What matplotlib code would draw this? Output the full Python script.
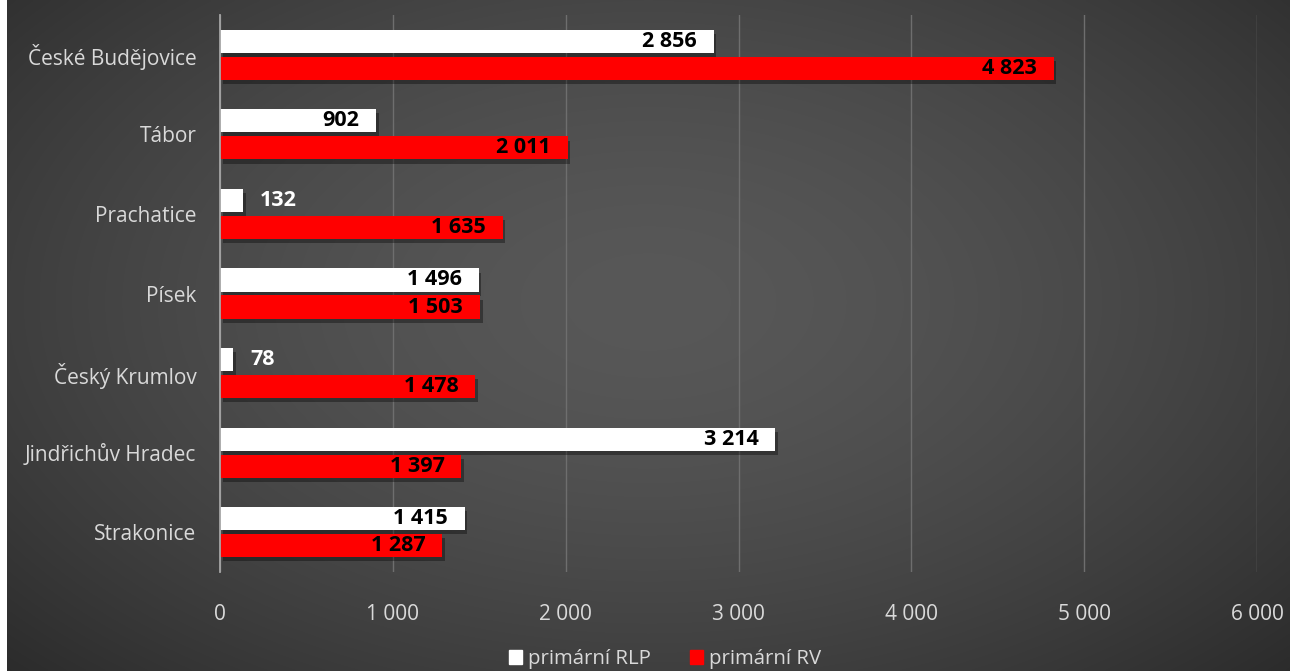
import numpy as np
import matplotlib
matplotlib.use("Agg")
import matplotlib.pyplot as plt
import matplotlib.patheffects as pe
from matplotlib.patches import Rectangle

categories = ["Strakonice", "Jindřichův Hradec", "Český Krumlov", "Písek",
              "Prachatice", "Tábor", "České Budějovice"]
rlp = [1415, 3214, 78, 1496, 132, 902, 2856]
rv = [1287, 1397, 1478, 1503, 1635, 2011, 4823]
xticks = [0, 1000, 2000, 3000, 4000, 5000, 6000]
series_names = ["primární RLP", "primární RV"]

FONT = ["Open Sans", "DejaVu Sans"]
plt.rcParams['font.family'] = FONT

W, H = 1290, 671
fig = plt.figure(figsize=(W / 100, H / 100), dpi=100)
fig.patch.set_facecolor("white")

# background radial gradient
bg = fig.add_axes([7 / W, 0, 1 - 7 / W, 1], zorder=0)
yy, xx = np.mgrid[0:1:300j, 0:1:600j]
r = np.sqrt(((xx - 0.5) / 0.75) ** 2 + ((yy - 0.55) / 0.85) ** 2)
r = np.clip(r, 0, 1)
val = 0.345 - (0.345 - 0.15) * r ** 1.6
img = np.dstack([val, val, val])
bg.imshow(img, aspect="auto", extent=[0, 1, 0, 1], origin="lower", interpolation="bilinear")
bg.axis("off")

left, right = 220 / W, 1257 / W
bottom, top = 1 - 572 / H, 1 - 15 / H
ax = fig.add_axes([left, bottom, right - left, top - bottom], zorder=1)
ax.patch.set_alpha(0)

y = np.arange(len(categories))
h = 0.29
off = 0.17
shadow = [pe.SimplePatchShadow(offset=(2, -3), shadow_rgbFace="black", alpha=0.35), pe.Normal()]
b1 = ax.barh(y + off, rlp, height=h, color="white", zorder=3)
b2 = ax.barh(y - off, rv, height=h, color="#ff0000", zorder=3)
for b in list(b1) + list(b2):
    b.set_path_effects(shadow)

ax.set_xlim(0, 6000)
ax.set_ylim(-0.5, len(categories) - 0.5)
ax.set_xticks(xticks)
ax.set_xticklabels([f"{t:,}".replace(",", " ") for t in xticks], color="#d9d9d9", fontsize=15)
ax.set_yticks(y)
ax.set_yticklabels(categories, color="#d9d9d9", fontsize=15)
ax.tick_params(axis="both", length=0)
ax.tick_params(axis="x", pad=23)
ax.tick_params(axis="y", pad=17)
ax.grid(axis="x", color="#6e6e6e", linewidth=1, zorder=0)
for s in ["top", "right", "bottom"]:
    ax.spines[s].set_visible(False)
ax.spines["left"].set_color("#a6a6a6")
ax.spines["left"].set_linewidth(1.3)
ax.spines["left"].set_zorder(4)

def fmt(v):
    return f"{v:,}".replace(",", " ")

LBL = dict(fontsize=15.5, fontweight="bold", zorder=5)
for yi, v in zip(y, rlp):
    if v < 400:
        ax.text(v + 100, yi + off, fmt(v), ha="left", va="center", color="white", **LBL)
    else:
        ax.text(v - 98, yi + off, fmt(v), ha="right", va="center", color="black", **LBL)
for yi, v in zip(y, rv):
    ax.text(v - 98, yi - off, fmt(v), ha="right", va="center", color="black", **LBL)

# legend
handles = [Rectangle((0, 0), 1, 1, color="white"), Rectangle((0, 0), 1, 1, color="#ff0000")]
leg = fig.legend(handles, series_names, loc="center", bbox_to_anchor=(665 / W, 1 - 659 / H),
                 ncol=2, frameon=False, fontsize=14.7, handlelength=0.65, handleheight=0.65,
                 handletextpad=0.3, columnspacing=1.9, labelcolor="#d9d9d9")

fig.savefig("out.png", dpi=100, facecolor=fig.get_facecolor())
